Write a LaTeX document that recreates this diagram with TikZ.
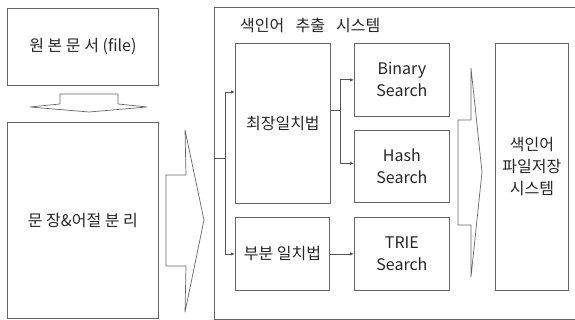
\documentclass[tikz,border=0pt]{standalone}
\usepackage{fontspec}
\setmainfont{Noto Sans CJK KR}
\usetikzlibrary{arrows.meta}
\definecolor{boxgray}{HTML}{666666}
\definecolor{linegray}{HTML}{555555}
\definecolor{textgray}{HTML}{262626}
\begin{document}
\begin{tikzpicture}[x=1pt,y=-1pt,
  box/.style={draw=boxgray, line width=0.8pt, fill=white, inner sep=0pt, anchor=north west,
    font=\fontsize{16}{22}\selectfont, text=textgray, align=center},
  conn/.style={draw=linegray, line width=0.8pt},
  arr/.style={conn, -{Latex[length=4pt,width=3.5pt]}},
  blockarrow/.style={draw=boxgray, line width=0.7pt, fill=white, line join=round}]
\useasboundingbox (0,0) rectangle (575,320);
\fill[white] (0,0) rectangle (575,320);
\clip (0,0) rectangle (575,320);
% outer system box
\node[box, minimum width=380pt, minimum height=312pt] (outer) at (214,7) {};
\node[anchor=west, font=\fontsize{16}{22}\selectfont, text=textgray, inner sep=0pt] (title) at (240,25)
  {색인어\hspace{0.7em}추출\hspace{0.7em}시스템};
% left boxes
\node[box, minimum width=151pt, minimum height=77pt] (src) at (7,8) {원 본 문 서 (file)};
\node[box, minimum width=151pt, minimum height=196pt] (sep) at (7,122) {문 장\&어절 분 리};
% down block arrow
\draw[blockarrow] (60,94) -- (118,94) -- (118,104) -- (147,107) -- (89,112) -- (30,107) -- (60,104) -- cycle;
% big right block arrow
\draw[blockarrow] (166,175) -- (186,175) -- (185,130) -- (204,220) -- (185,312) -- (186,266) -- (166,266) -- cycle;
% inner boxes
\node[box, minimum width=95pt, minimum height=160pt] (long) at (235,43) {최장일치법};
\node[box, minimum width=94pt, minimum height=73pt] (part) at (235,217) {부분 일치법};
\node[box, minimum width=95pt, minimum height=73pt] (bin) at (354,43) {Binary\\Search};
\node[box, minimum width=95pt, minimum height=72pt] (hash) at (354,130) {Hash\\Search};
\node[box, minimum width=95pt, minimum height=73pt] (trie) at (354,217) {TRIE\\Search};
\node[box, minimum width=73pt, minimum height=247pt] (store) at (495,43) {색인어\\파일저장\\시스템};
% second block arrow
\draw[blockarrow] (458,120) -- (471,120) -- (471,68) -- (482,172) -- (471,277) -- (471,225) -- (458,225) -- cycle;
% connectors
\coordinate (in) at (214,158);
\draw[arr] (in) -- ++(11,0) |- ([yshift=-49pt]long.north west);
\draw[arr] (in) -- ++(11,0) |- (part.west);
\draw[arr] ([yshift=13pt]long.east) -- ++(10,0) |- (bin.west);
\draw[arr] ([yshift=13pt]long.east) -- ++(10,0) |- ([yshift=3pt]hash.west);
\draw[arr] (part.east) -- (trie.west);
\end{tikzpicture}
\end{document}
